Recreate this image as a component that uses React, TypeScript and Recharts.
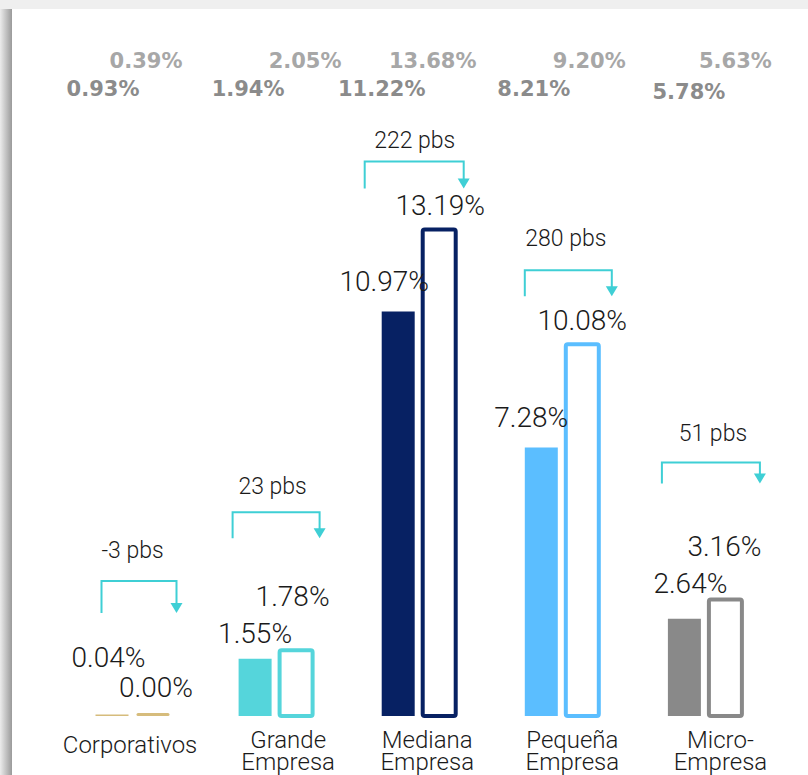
import { BarChart, Bar, XAxis, YAxis, Cell, LabelList } from "recharts";

// values
const CATEGORIES = ["Corporativos", "Grande\nEmpresa", "Mediana\nEmpresa", "Pequeña\nEmpresa", "Micro-\nEmpresa"];
const PREV_VALUES = [0.04, 1.55, 10.97, 7.28, 2.64];
const CURR_VALUES = [0.0, 1.78, 13.19, 10.08, 3.16];
const CHANGE_PBS = [-3, 23, 222, 280, 51];
const REF_PREV = [0.93, 1.94, 11.22, 8.21, 5.78];
const REF_CURR = [0.39, 2.05, 13.68, 9.2, 5.63];

const BAR_COLORS = ["#D6BC7C", "#55D5DB", "#072163", "#5BBEFF", "#898989"];
const TEAL = "#3FCFD5";
const BAR_SIZE = 33;
const BAR_GAP = 8;
const LIGHT = "Roboto, 'Open Sans', sans-serif";

// hand-placed offsets, like the original slide
const PREV_LABEL_DX = [-3.5, 0, -14, -10, 6];
const PREV_LABEL_DY = [-47.5, -16, -20, -21, -26];
const CURR_LABEL_DX = [3, -3.5, 1, 0, -1];
const CURR_LABEL_DY = [-19, -44, -15, -14.5, -43];
const REF_PREV_DX = [-9, -7, -16.5, -7.5, 4.5];
const REF_PREV_Y = [96, 96, 96, 96, 99];
const REF_CURR_DX = [-7, 9, -6.5, 7, 10];
const REF_CURR_Y = 68;
const TICK_DX = [-2, 13, 9, 11, 16];
const BRACKETS = [
  { left: -31, right: 44, top: -135, leg: 32, textDx: 0, textDy: -23 },
  { left: -43, right: 44, top: -138, leg: 26, textDx: -3, textDy: -18 },
  { left: -54, right: 45, top: -68, leg: 27, textDx: -4, textDy: -14 },
  { left: -37, right: 50, top: -74, leg: 26, textDx: 4, textDy: -24 },
  { left: -43, right: 55, top: -137, leg: 21, textDx: 8, textDy: -21 },
];

const data = CATEGORIES.map((name, i) => ({
  name,
  prev: PREV_VALUES[i],
  curr: CURR_VALUES[i],
  pbs: CHANGE_PBS[i],
  refPrev: REF_PREV[i],
  refCurr: REF_CURR[i],
}));

const fmt = (v: number) => `${Number(v).toFixed(2)}%`;

function box(p: any) {
  const vb = p.viewBox ?? {};
  return {
    x: Number(vb.x ?? p.x),
    y: Number(vb.y ?? p.y),
    width: Number(vb.width ?? p.width),
  };
}

const valueLabel = (dx: number[], dy: number[]) => (p: any) => {
  const b = box(p);
  const i = p.index;
  return (
    <text x={b.x + b.width / 2 + dx[i]} y={b.y + dy[i]} textAnchor="middle"
      fontFamily={LIGHT} fontWeight={300} fontSize={28} fill="#1a1a1a">
      {fmt(p.value)}
    </text>
  );
};

const refLabel = (dx: number[], yAt: (i: number) => number, color: string) => (p: any) => {
  const b = box(p);
  const i = p.index;
  return (
    <text x={b.x + b.width / 2 + dx[i]} y={yAt(i)} textAnchor="middle"
      fontFamily="'DejaVu Sans', sans-serif" fontWeight={700} fontSize={21} fill={color}>
      {fmt(p.value)}
    </text>
  );
};

function BracketLabel(p: any) {
  const b = box(p);
  const L = BRACKETS[p.index];
  const gc = b.x - BAR_GAP / 2;
  const top = b.y + L.top;
  const x1 = gc + L.left;
  const x2 = gc + L.right;
  const bottom = top + L.leg;
  return (
    <g>
      <polyline points={`${x1},${bottom} ${x1},${top} ${x2},${top} ${x2},${bottom - 9}`}
        fill="none" stroke={TEAL} strokeWidth={2} />
      <polygon points={`${x2 - 6},${bottom - 10} ${x2 + 6},${bottom - 10} ${x2},${bottom}`} fill={TEAL} />
      <text x={gc + L.textDx} y={top + L.textDy} textAnchor="middle"
        fontFamily={LIGHT} fontWeight={300} fontSize={23} fill="#1a1a1a">
        {`${p.value} pbs`}
      </text>
    </g>
  );
}

function OutlineBar(p: any) {
  const { x, y, width, height, index } = p;
  const c = BAR_COLORS[index];
  if (!(height > 2)) {
    return <rect x={x} y={y + (height || 0) - 3} width={width} height={3} rx={1.5} fill={c} />;
  }
  return <rect x={x} y={y} width={width} height={height} rx={2} fill="#fff" stroke={c} strokeWidth={4} />;
}

function CategoryTick(p: any) {
  const i = p.index;
  const lines = String(p.payload.value).split("\n");
  const x = p.x + TICK_DX[i];
  if (lines.length === 1) {
    return (
      <text x={x} y={p.y + 37} textAnchor="middle" fontFamily={LIGHT} fontWeight={300} fontSize={24} fill="#1a1a1a">
        {lines[0]}
      </text>
    );
  }
  return (
    <text textAnchor="middle" fontFamily={LIGHT} fontWeight={300} fontSize={24} fill="#1a1a1a">
      <tspan x={x} y={p.y + 32}>{lines[0]}</tspan>
      <tspan x={x} y={p.y + 54}>{lines[1]}</tspan>
    </text>
  );
}

export default function App() {
  return (
    <div style={{ position: "absolute", left: 0, top: 0, width: 808, height: 775, background: "#efefef", overflow: "hidden" }}>
      <div style={{ position: "absolute", left: 0, top: 9, width: 12, height: 766, background: "linear-gradient(to right, #ececec, #9a9a9a)" }} />
      <div style={{ position: "absolute", left: 12, top: 9, width: 796, height: 766, background: "#fff" }} />
      <div style={{ position: "absolute", left: 0, top: 0 }}>
        <BarChart width={808} height={775} data={data}
          margin={{ top: 126, right: 32, bottom: 0, left: 60.5 }}
          barSize={BAR_SIZE} barGap={BAR_GAP}>
          <XAxis dataKey="name" height={59} axisLine={false} tickLine={false} tickSize={0} tickMargin={0}
            interval={0} tick={<CategoryTick />} />
          <YAxis hide domain={[0, 16]} />
          <Bar dataKey="prev" isAnimationActive={false}>
            {data.map((_, i) => (
              <Cell key={i} fill={BAR_COLORS[i]} />
            ))}
            <LabelList dataKey="prev" content={valueLabel(PREV_LABEL_DX, PREV_LABEL_DY)} />
            <LabelList dataKey="refPrev" content={refLabel(REF_PREV_DX, (i) => REF_PREV_Y[i], "#8b8b8b")} />
          </Bar>
          <Bar dataKey="curr" isAnimationActive={false} shape={<OutlineBar />}>
            <LabelList dataKey="curr" content={valueLabel(CURR_LABEL_DX, CURR_LABEL_DY)} />
            <LabelList dataKey="refCurr" content={refLabel(REF_CURR_DX, () => REF_CURR_Y, "#a7a7a7")} />
            <LabelList dataKey="pbs" content={<BracketLabel />} />
          </Bar>
        </BarChart>
      </div>
    </div>
  );
}
